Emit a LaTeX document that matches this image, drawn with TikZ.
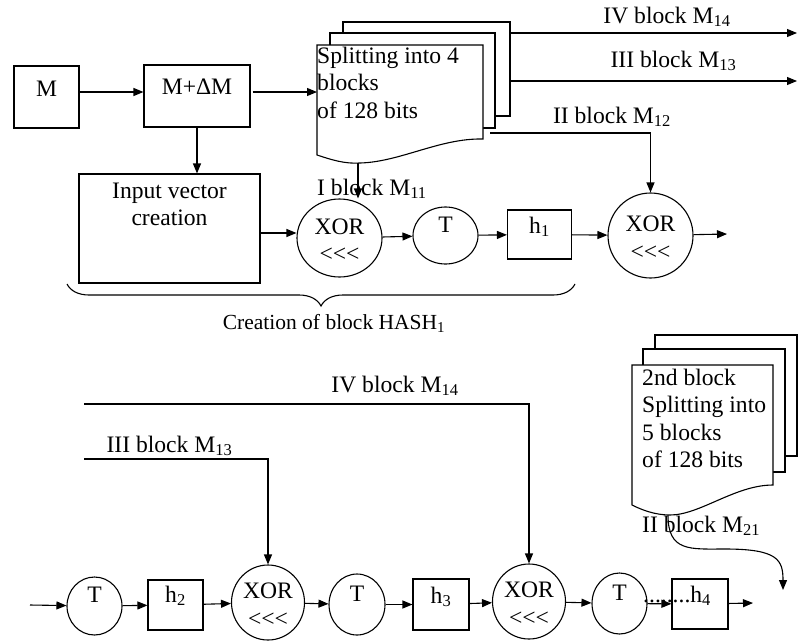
\documentclass[tikz,border=0pt]{standalone}
\usepackage{fontspec}
\setmainfont{Liberation Serif}
\usetikzlibrary{arrows.meta,shapes.geometric,decorations.pathreplacing}
\begin{document}
\begin{tikzpicture}[x=1pt,y=-1pt,inner sep=0pt,font=\fontsize{23.6}{27.5}\selectfont]
    \tikzset{
        blk/.style={draw, rectangle, line width=1.1pt},
        rnd/.style={draw, ellipse, line width=1.1pt},
        xorn/.style={rnd, text height=20pt, text depth=28pt},
        tn/.style={rnd, text height=16pt, text depth=23pt},
        arr/.style={-{Triangle[length=10pt,width=8pt]}, line width=1.1pt},
        page/.style={draw, line width=1.1pt, fill=white}
    }
    \useasboundingbox (0,0) rectangle (799,640);
    \draw[page] (343,22) rectangle (510,116);
    \draw[page] (330,33) rectangle (495,128);
    \draw[page] (317,45) -- (483,45) -- (483,139) .. controls (440,138) and (400,162) .. (360,163)
        .. controls (345,164) and (332,160) .. (317,155) -- cycle;
    \node[anchor=base west] (sp1) at (317,63) {\begin{tabular}[t]{@{}l@{}}Splitting into 4\\blocks\\of 128 bits\end{tabular}};
    \coordinate (d1in) at (317,92);
    \coordinate (d1b) at (358,163);
    \coordinate (d14) at (510,33);
    \coordinate (e14) at (797,33);
    \coordinate (d13) at (510,81);
    \coordinate (e13) at (797,81);
    \coordinate (d12) at (490,133);
    \node[anchor=base] (l14) at (667,23) {IV block M\textsubscript{14}};
    \node[anchor=base] (l13) at (673.5,67) {III block M\textsubscript{13}};
    \node[anchor=base] (l12) at (612,123) {II block M\textsubscript{12}};
    \node[anchor=base west] (l11) at (317,195) {I block M\textsubscript{11}};

    \node[blk, minimum width=65pt, text height=30pt, text depth=32pt, anchor=base] (m) at (46.5,96) {M};
    \node[blk, minimum width=106pt, text height=29pt, text depth=33pt, anchor=base] (mdm) at (197,94) {M+ΔM};
    \node[blk, minimum width=181pt, text height=24pt, text depth=85pt, anchor=base] (inp) at (169.5,198)
        {\begin{tabular}[t]{@{}c@{}}Input vector\\creation\end{tabular}};
    \node[xorn, minimum width=85pt, minimum height=78pt] (x1) at (339.5,238) {\begin{tabular}[t]{@{}c@{}}XOR\\{<}{<}{<}\end{tabular}};
    \node[tn, minimum width=65pt, minimum height=57pt] (t1) at (445.5,235.5) {T};
    \node[blk, minimum width=64pt, text height=23pt, text depth=26pt, anchor=base] (h1) at (539.5,233) {h\textsubscript{1}};
    \node[xorn, minimum width=85pt, minimum height=85pt] (x2) at (650.5,235.5) {\begin{tabular}[t]{@{}c@{}}XOR\\{<}{<}{<}\end{tabular}};
    \coordinate (o1) at (727,234);

    \draw[arr] ([yshift=5pt]m.east) -- ([yshift=5pt]m.east -| mdm.west);
    \draw[arr] ([xshift=2pt,yshift=4pt]mdm.east) -- (d1in);
    \draw[arr] (mdm.south) -- (mdm.south |- inp.north);
    \draw[arr] ([yshift=-4.5pt]inp.east) -- ([yshift=-4.5pt]inp.east -| x1.west);
    \draw[arr] (x1) -- (t1);
    \draw[arr] (t1) -- (h1);
    \draw[arr] (h1) -- (x2);
    \draw[arr] (x2) -- (o1);
    \draw[arr] (d1b) -- (d1b |- x1.north);
    \draw[arr] (d12) -| (x2.north);
    \draw[arr] (d14) -- (e14);
    \draw[arr] (d13) -- (e13);

    \draw[decorate, decoration={brace, amplitude=22pt}, line width=1.1pt] (575,284) -- (67,284);
    \node[anchor=base, font=\fontsize{21.5}{25}\selectfont] (hash) at (334,329) {Creation of block HASH\textsubscript{1}};

    \draw[page] (655,335) rectangle (797,456);
    \draw[page] (643,349) rectangle (785,472);
    \draw[page] (632,365) -- (773,365) -- (773,485) .. controls (735,485) and (700,515) .. (670,515)
        .. controls (655,515) and (642,510) .. (632,505) -- cycle;
    \node[anchor=base west] (sp2) at (642,385) {\begin{tabular}[t]{@{}l@{}}2nd block\\Splitting into\\5 blocks\\of 128 bits\end{tabular}};
    \node[anchor=base west] (l21) at (642,532) {II block M\textsubscript{21}};
    \coordinate (d2b) at (668,515);
    \coordinate (e21) at (783,590);

    \coordinate (c14) at (84,404);
    \coordinate (c13) at (84,459);
    \node[anchor=base] (b14) at (395,392) {IV block M\textsubscript{14}};
    \node[anchor=base] (b13) at (169.5,452) {III block M\textsubscript{13}};

    \coordinate (in2) at (30,605);
    \node[tn, minimum width=55pt, minimum height=58pt] (t2) at (94.5,606) {T};
    \node[blk, minimum width=55pt, text height=22pt, text depth=28pt, anchor=base] (h2) at (175.5,602) {h\textsubscript{2}};
    \node[xorn, minimum width=73pt, minimum height=75pt] (x3) at (268,602.5) {\begin{tabular}[t]{@{}c@{}}XOR\\{<}{<}{<}\end{tabular}};
    \node[tn, minimum width=56pt, minimum height=61pt] (t3) at (357,604.5) {T};
    \node[blk, minimum width=56pt, text height=24pt, text depth=27pt, anchor=base] (h3) at (441,603) {h\textsubscript{3}};
    \node[xorn, minimum width=73pt, minimum height=75pt] (x4) at (529,601.5) {\begin{tabular}[t]{@{}c@{}}XOR\\{<}{<}{<}\end{tabular}};
    \node[tn, minimum width=55pt, minimum height=61pt] (t4) at (619.5,603.5) {T};
    \node[blk, minimum width=56pt, minimum height=50pt] (h4) at (700,604) {};
    \node[anchor=base west] (h4t) at (643,602) {........h\textsubscript{4}};
    \coordinate (o2) at (753,603);

    \draw[arr] (c14) -| (x4.north);
    \draw[arr] (c13) -| (x3.north);
    \draw[arr] (in2) -- (t2);
    \draw[arr] (t2) -- (h2);
    \draw[arr] (h2) -- (x3);
    \draw[arr] (x3) -- (t3);
    \draw[arr] (t3) -- (h3);
    \draw[arr] (h3) -- (x4);
    \draw[arr] (x4) -- (t4);
    \draw[arr] (t4) -- (h4);
    \draw[arr] (h4) -- (o2);
    \draw[arr] (d2b) .. controls (668,552) and (690,549) .. (725,549) .. controls (778,549) and (783,560) .. (e21);
\end{tikzpicture}
\end{document}
